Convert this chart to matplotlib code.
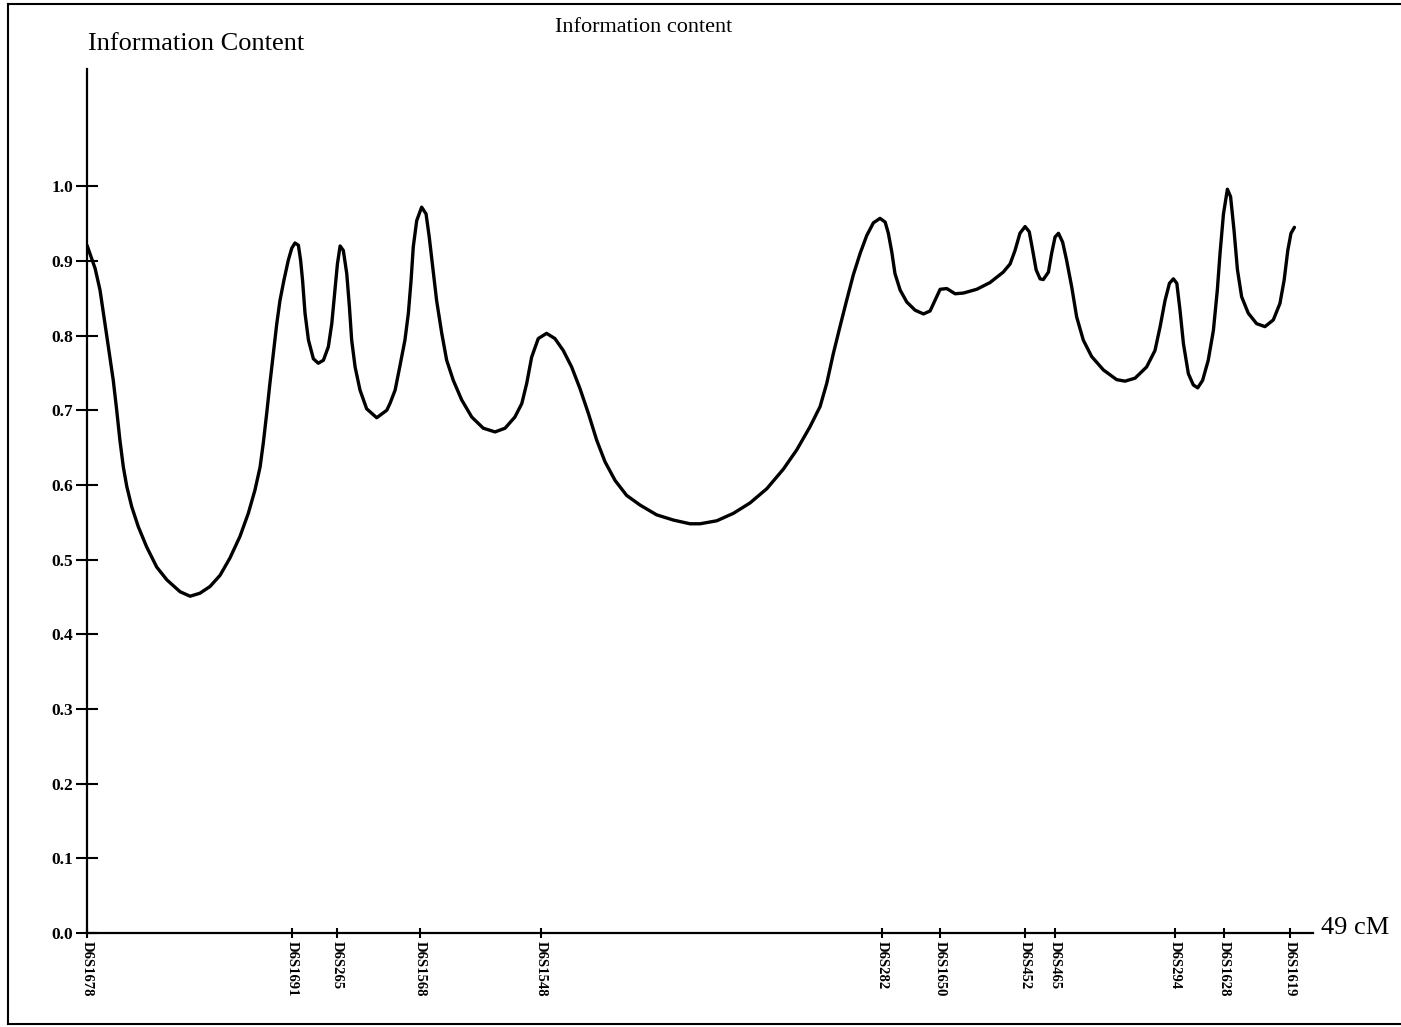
import numpy as np
import matplotlib.pyplot as plt
from matplotlib.lines import Line2D

plt.rcParams['font.family'] = ['Liberation Serif', 'DejaVu Serif']

# marker names and map positions (cM)
markers = ['D6S1678', 'D6S1691', 'D6S265', 'D6S1568', 'D6S1548', 'D6S282',
           'D6S1650', 'D6S452', 'D6S465', 'D6S294', 'D6S1628', 'D6S1619']
marker_cm = [0.0, 8.35, 10.18, 13.56, 18.49, 32.38,
             34.74, 38.21, 39.43, 44.32, 46.31, 49.0]

# information content along the map
pos_cm = [0.00, 0.33, 0.53, 0.67, 0.87, 1.07, 1.21, 1.34, 1.48, 1.62,
          1.82, 2.09, 2.43, 2.84, 3.25, 3.79, 4.20, 4.60, 5.01, 5.42,
          5.82, 6.23, 6.57, 6.84, 7.05, 7.18, 7.32, 7.45, 7.59, 7.73,
          7.86, 8.02, 8.20, 8.34, 8.47, 8.61, 8.70, 8.78, 8.88, 9.02,
          9.22, 9.42, 9.63, 9.83, 9.97, 10.10, 10.20, 10.31, 10.44, 10.58,
          10.69, 10.78, 10.92, 11.12, 11.39, 11.80, 12.21, 12.34, 12.55, 12.75,
          12.95, 13.09, 13.20, 13.29, 13.43, 13.63, 13.81, 13.94, 14.08, 14.24,
          14.45, 14.65, 14.92, 15.26, 15.67, 16.14, 16.62, 17.03, 17.43, 17.71,
          17.91, 18.11, 18.38, 18.72, 19.06, 19.40, 19.74, 20.08, 20.42, 20.76,
          21.10, 21.51, 21.98, 22.53, 23.20, 23.88, 24.56, 24.97, 25.65, 26.33,
          27.01, 27.69, 28.36, 28.91, 29.45, 29.86, 30.13, 30.40, 30.67, 30.94,
          31.21, 31.49, 31.76, 32.03, 32.30, 32.51, 32.64, 32.78, 32.91, 33.12,
          33.39, 33.73, 34.07, 34.34, 34.54, 34.75, 35.02, 35.36, 35.70, 36.24,
          36.78, 37.32, 37.60, 37.80, 38.00, 38.21, 38.38, 38.52, 38.66, 38.82,
          38.95, 39.16, 39.29, 39.43, 39.57, 39.74, 39.90, 40.11, 40.31, 40.58,
          40.92, 41.40, 41.94, 42.28, 42.69, 43.16, 43.50, 43.71, 43.91, 44.09,
          44.25, 44.39, 44.52, 44.66, 44.86, 45.06, 45.24, 45.44, 45.67, 45.88,
          46.04, 46.15, 46.29, 46.45, 46.58, 46.72, 46.86, 47.03, 47.30, 47.64,
          47.98, 48.32, 48.59, 48.76, 48.91, 49.04, 49.18]
info = [0.921, 0.890, 0.861, 0.830, 0.785, 0.740, 0.700, 0.660, 0.624, 0.598,
        0.571, 0.544, 0.517, 0.490, 0.473, 0.457, 0.451, 0.455, 0.464, 0.479,
        0.502, 0.531, 0.562, 0.593, 0.624, 0.656, 0.696, 0.736, 0.776, 0.816,
        0.847, 0.874, 0.901, 0.917, 0.924, 0.921, 0.901, 0.874, 0.830, 0.794,
        0.769, 0.763, 0.767, 0.785, 0.816, 0.861, 0.896, 0.920, 0.914, 0.883,
        0.838, 0.794, 0.758, 0.727, 0.702, 0.690, 0.700, 0.709, 0.727, 0.760,
        0.794, 0.830, 0.874, 0.919, 0.954, 0.972, 0.963, 0.932, 0.892, 0.847,
        0.803, 0.767, 0.740, 0.714, 0.691, 0.676, 0.671, 0.676, 0.691, 0.709,
        0.736, 0.771, 0.796, 0.803, 0.796, 0.780, 0.758, 0.729, 0.696, 0.660,
        0.631, 0.606, 0.586, 0.573, 0.560, 0.553, 0.548, 0.548, 0.552, 0.562,
        0.576, 0.595, 0.621, 0.647, 0.678, 0.705, 0.736, 0.776, 0.812, 0.847,
        0.881, 0.910, 0.934, 0.951, 0.957, 0.952, 0.937, 0.912, 0.883, 0.861,
        0.845, 0.834, 0.829, 0.833, 0.847, 0.862, 0.863, 0.856, 0.857, 0.862,
        0.871, 0.885, 0.896, 0.914, 0.937, 0.946, 0.939, 0.914, 0.888, 0.876,
        0.875, 0.885, 0.910, 0.932, 0.937, 0.925, 0.901, 0.865, 0.825, 0.794,
        0.772, 0.754, 0.741, 0.739, 0.743, 0.758, 0.780, 0.812, 0.847, 0.870,
        0.876, 0.870, 0.834, 0.789, 0.749, 0.734, 0.730, 0.740, 0.767, 0.807,
        0.861, 0.910, 0.963, 0.996, 0.986, 0.941, 0.888, 0.852, 0.830, 0.816,
        0.812, 0.821, 0.843, 0.874, 0.914, 0.937, 0.945]

yticks = [0.0, 0.1, 0.2, 0.3, 0.4, 0.5, 0.6, 0.7, 0.8, 0.9, 1.0]

W, H = 1401, 1027
fig = plt.figure(figsize=(W / 100, H / 100), dpi=100)
ax = fig.add_axes([87 / W, (H - 933) / H, (1313 - 87) / W, (933 - 69) / H])

ax.plot(pos_cm, info, color='black', lw=2.4,
        solid_joinstyle='round', solid_capstyle='round')

ax.set_xlim(0, 49 * (1313 - 87) / 1203)
ax.set_ylim(0, 1.157)

for s in ['top', 'right']:
    ax.spines[s].set_visible(False)
for s in ['left', 'bottom']:
    ax.spines[s].set_linewidth(1.6)

ax.set_yticks(yticks, [f'{v:.1f}' for v in yticks])
ax.tick_params(axis='y', direction='inout', length=16, width=1.5, pad=2, labelsize=12.5)
for lbl in ax.get_yticklabels():
    lbl.set_fontweight('bold')

ax.set_xticks(marker_cm, markers, rotation=-90)
ax.tick_params(axis='x', direction='inout', length=7, width=1.5, pad=2, labelsize=10.5)
for lbl in ax.get_xticklabels():
    lbl.set_fontweight('bold')

fig.text(88 / W, 1 - 44 / H, 'Information Content', fontsize=19, ha='left', va='center')
fig.text(644 / W, 1 - 28 / H, 'Information content', fontsize=16, ha='center', va='center')
fig.text(1321 / W, 1 - 928 / H, '49 cM', fontsize=19, ha='left', va='center')

# page frame (open on the right)
x0, y0, y1 = 8 / W, 1 - 4 / H, 1 - 1024 / H
for xs, ys in [([x0, x0], [y0, y1]), ([x0, 1.0], [y0, y0]), ([x0, 1.0], [y1, y1])]:
    fig.add_artist(Line2D(xs, ys, transform=fig.transFigure, color='black', lw=1.5))

fig.savefig('out.png', dpi=100)
